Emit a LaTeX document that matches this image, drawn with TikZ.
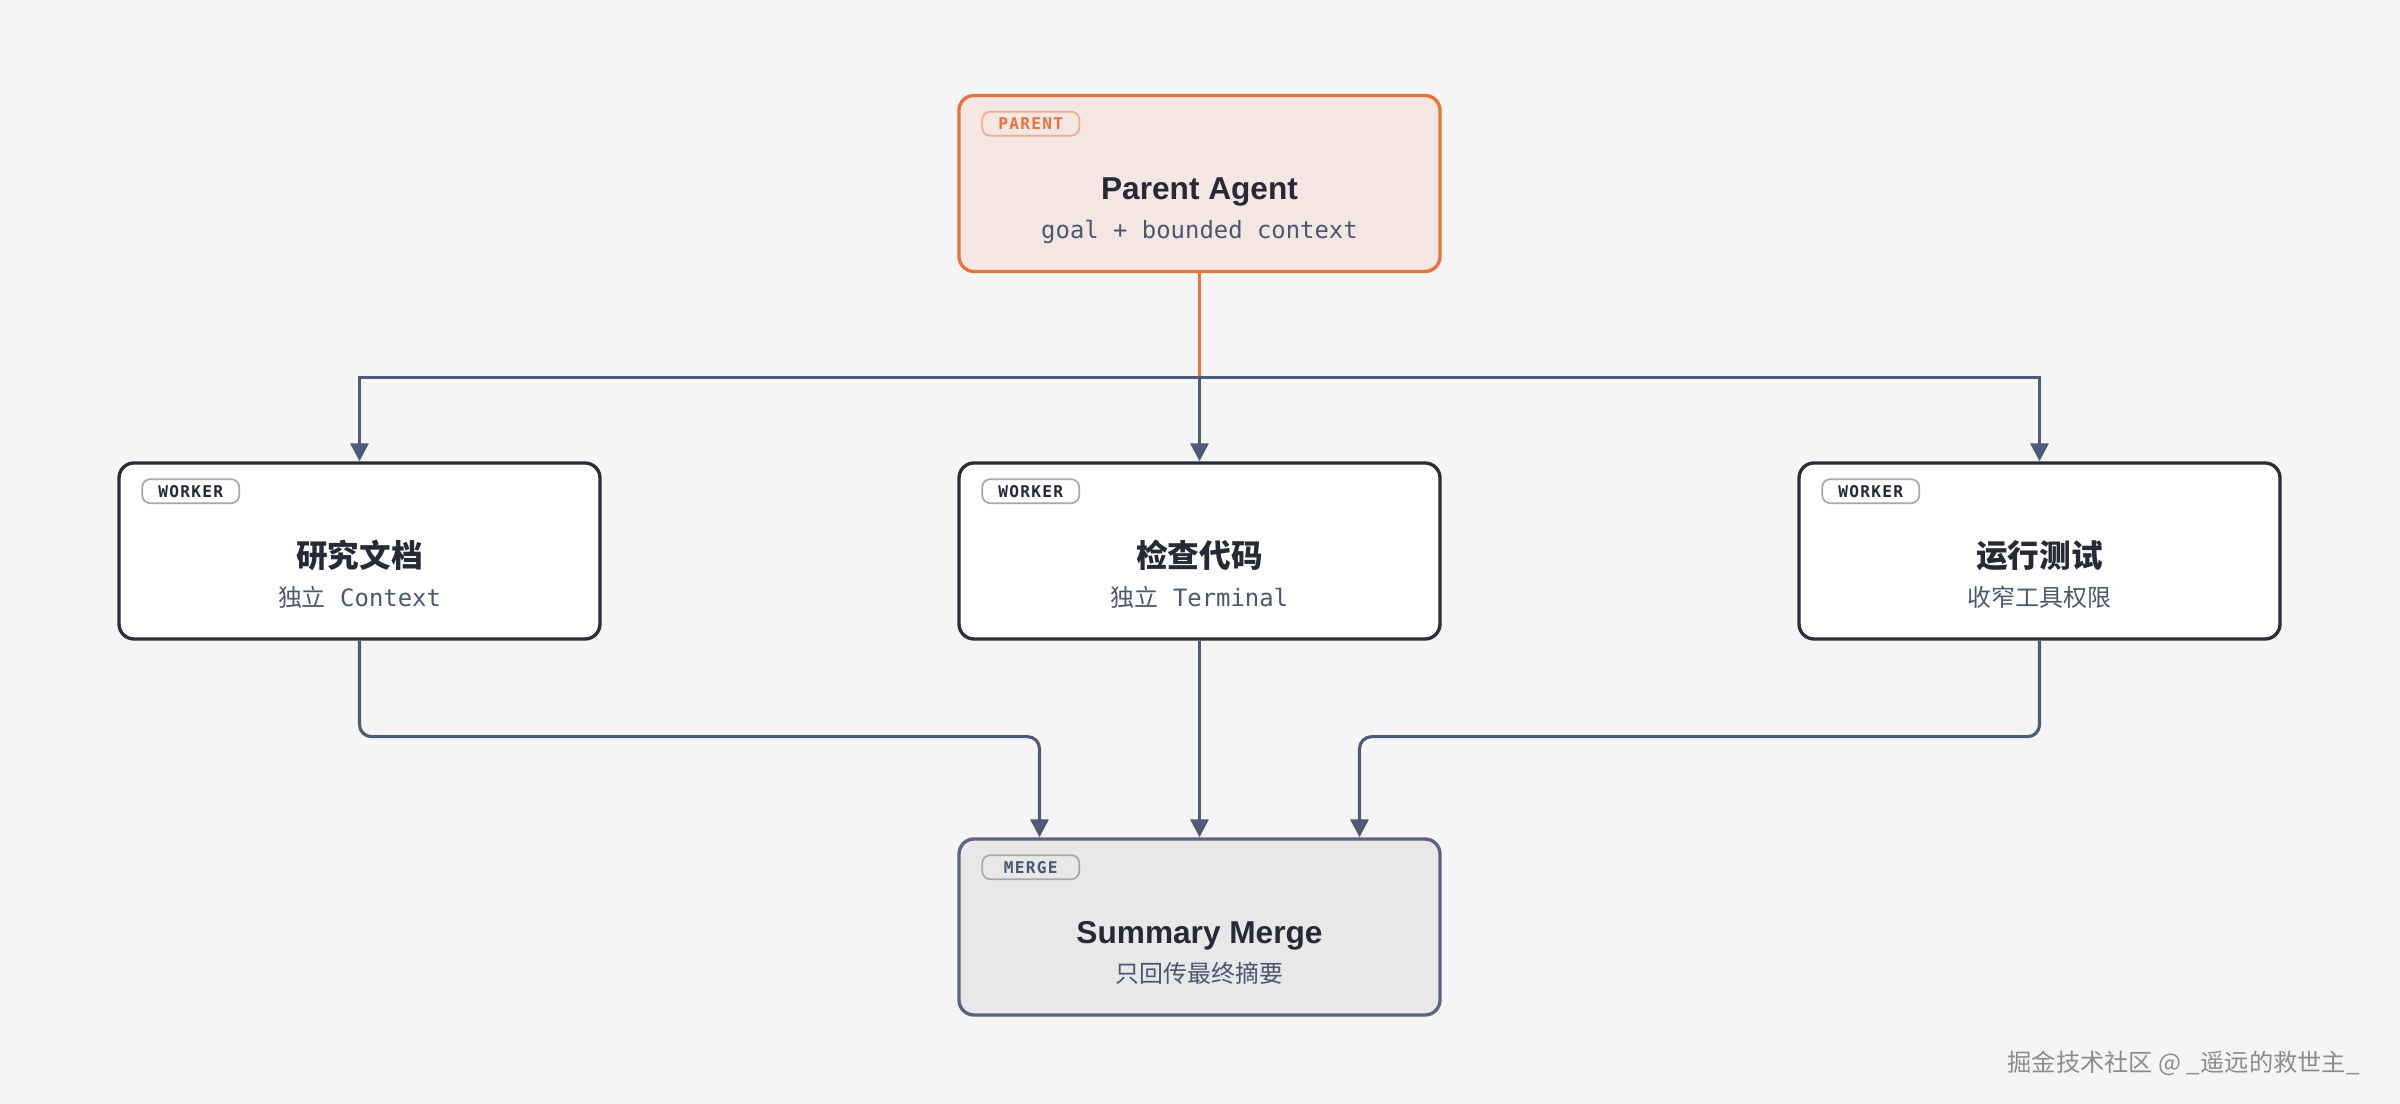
\documentclass[tikz,border=0pt]{standalone}
\usepackage{fontspec}
\usetikzlibrary{arrows.meta}
\setmainfont{Liberation Sans}
\newfontfamily\cjk{Noto Sans CJK SC}
\newfontfamily\mono{DejaVu Sans Mono}
\newfontfamily\badgefont{DejaVu Sans Mono}[LetterSpace=8]

\definecolor{bg}{HTML}{F5F5F5}
\definecolor{ink}{HTML}{272A36}
\definecolor{slate}{HTML}{4B5670}
\definecolor{edge}{HTML}{4D5A78}
\definecolor{accent}{HTML}{E8743B}
\definecolor{peach}{HTML}{F4E6E3}
\definecolor{frame}{HTML}{2B2E38}
\definecolor{mergefill}{HTML}{E8E8E9}
\definecolor{mergeframe}{HTML}{5B6480}
\definecolor{tagline}{HTML}{A8A8A8}
\definecolor{mark}{HTML}{8C8C8C}

\tikzset{
  box/.style={draw=frame, fill=white, line width=0.95pt, rounded corners=0.15cm,
    minimum width=4.81cm, minimum height=1.76cm, inner sep=0pt},
  tag/.style={draw=tagline, fill=white, line width=0.5pt, rounded corners=0.08cm,
    minimum width=0.97cm, minimum height=0.24cm, inner sep=0pt, anchor=north west,
    text=ink, font=\badgefont\bfseries\fontsize{4.6}{5}\selectfont},
  title/.style={anchor=base, text=ink, font=\bfseries\fontsize{9}{10}\selectfont},
  sub/.style={anchor=base, text=slate, font=\mono\fontsize{6.8}{8}\selectfont},
  link/.style={draw=edge, line width=0.9pt, -{Triangle[width=0.18cm,length=0.18cm]}},
}

\begin{document}
\begin{tikzpicture}
\fill[bg] (0,0) rectangle (24,-11.04);
\useasboundingbox (0,0) rectangle (24,-11.04);

% parent
\node[box, draw=accent, fill=peach] (parent) at (11.995,-1.835) {};
\node[tag, draw=accent!60, fill=peach, text=accent] (parent-tag)
  at ([shift={(0.24,-0.17)}]parent.north west) {PARENT};
\node[title] (parent-title) at ([yshift=-1.06cm]parent.north) {Parent Agent};
\node[sub] (parent-sub) at ([yshift=-1.45cm]parent.north) {goal + bounded context};

% workers
\foreach \n/\x/\t/\s in {w1/3.595/研究文档/{{\cjk 独立} Context},
                         w2/11.995/检查代码/{{\cjk 独立} Terminal},
                         w3/20.395/运行测试/{\cjk 收窄工具权限}}{
  \node[box] (\n) at (\x,-5.51) {};
  \node[tag] (\n-tag) at ([shift={(0.24,-0.17)}]\n.north west) {WORKER};
  \node[title, font=\cjk\bfseries\fontsize{9}{10}\selectfont] (\n-title)
    at ([yshift=-1.06cm]\n.north) {\t};
  \node[sub] (\n-sub) at ([yshift=-1.45cm]\n.north) {\s};
}

% merge
\node[box, draw=mergeframe, fill=mergefill] (merge) at (11.995,-9.27) {};
\node[tag, fill=mergefill, text=slate] (merge-tag)
  at ([shift={(0.24,-0.17)}]merge.north west) {MERGE};
\node[title] (merge-title) at ([yshift=-1.06cm]merge.north) {Summary Merge};
\node[sub, font=\cjk\fontsize{6.8}{8}\selectfont] (merge-sub)
  at ([yshift=-1.45cm]merge.north) {只回传最终摘要};

% fan out
\coordinate (split) at ([yshift=-1.04cm]parent.south);
\draw[accent, line width=0.9pt] (parent.south) -- (split);
\draw[link] (split) -| (w1.north);
\draw[link] (split) -| (w3.north);
\draw[link] (split) -- (w2.north);

% fan in
\draw[link, rounded corners=0.12cm] (w1.south) -- ++(0,-0.96) -| ([xshift=-1.6cm]merge.north);
\draw[link] (w2.south) -- (merge.north);
\draw[link, rounded corners=0.12cm] (w3.south) -- ++(0,-0.96) -| ([xshift=1.6cm]merge.north);

\node[anchor=east, text=mark, font=\cjk\fontsize{6.9}{8}\selectfont] (credit)
  at (23.72,-10.63) {掘金技术社区 @ \_遥远的救世主\_};
\end{tikzpicture}
\end{document}
